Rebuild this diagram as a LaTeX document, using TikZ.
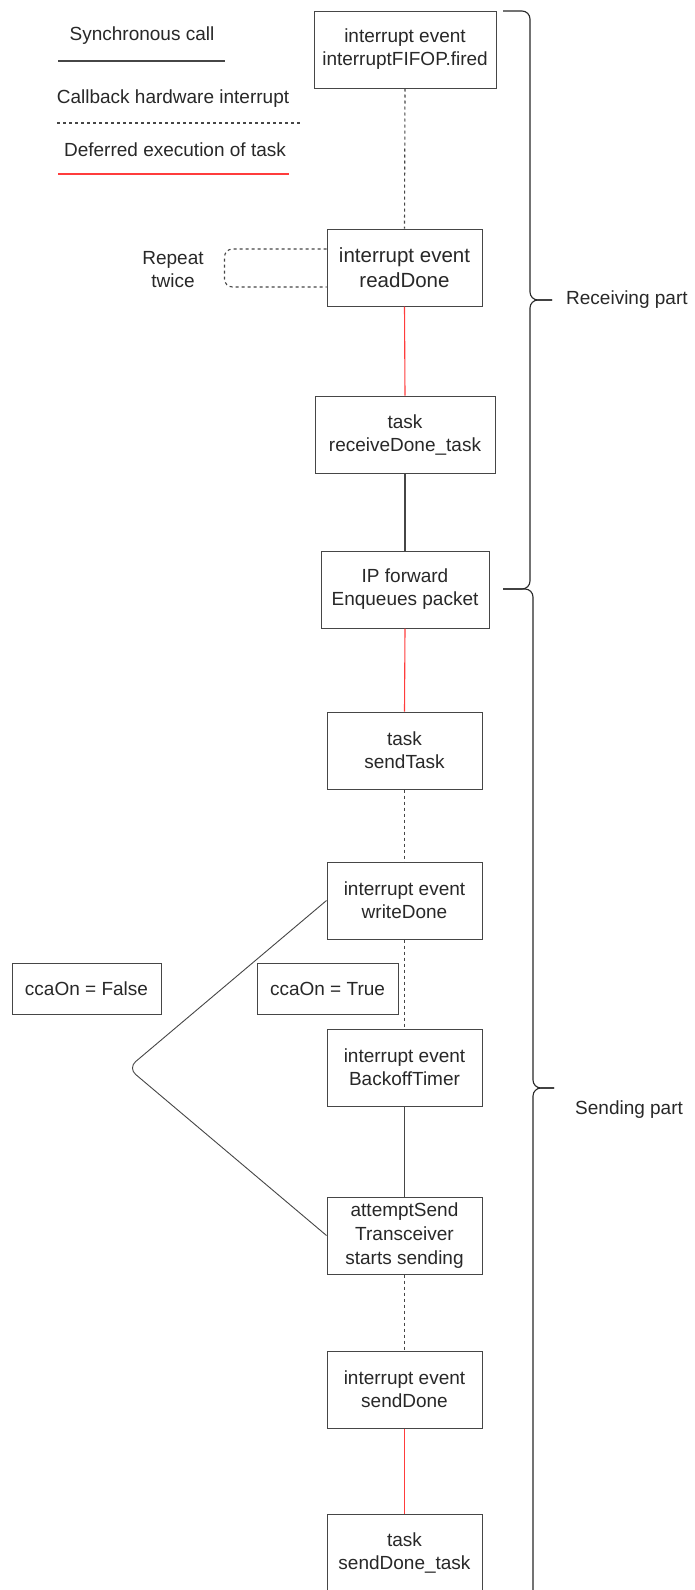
\documentclass[tikz,border=0pt]{standalone}
\usepackage{fontspec}
\setmainfont{Liberation Sans}
\definecolor{redline}{RGB}{255,60,60}
\definecolor{ink}{RGB}{40,40,40}
\definecolor{edge}{RGB}{70,70,70}
\begin{document}
\begin{tikzpicture}[x=1pt,y=-1pt,
  box/.style={draw=edge, line width=1pt, minimum height=77pt, inner sep=0pt, align=center, font=\fontsize{19}{23}\selectfont, text=ink},
  lbl/.style={inner sep=0pt, align=center, font=\fontsize{19}{23}\selectfont, text=ink},
  sync/.style={draw=edge, line width=1.1pt},
  cb/.style={draw=edge, line width=1.1pt, dash pattern=on 3pt off 3pt},
  defer/.style={draw=redline, line width=1.1pt},
  bracel/.style={draw=ink, line width=1.1pt, rounded corners=8pt}]
\fill[white] (0,0) rectangle (695,1590);
\useasboundingbox (0,0) rectangle (695,1590);

% legend
\node[lbl] (lg1) at (142,36) {Synchronous call};
\coordinate (l1a) at (58,61); \coordinate (l1b) at (225,61);
\draw[sync] (l1a) -- (l1b);
\node[lbl] (lg2) at (173,99) {Callback hardware interrupt};
\coordinate (l2a) at (57,123); \coordinate (l2b) at (302,123);
\draw[cb] (l2a) -- (l2b);
\node[lbl] (lg3) at (175,150) {Deferred execution of task};
\coordinate (l3a) at (58,174); \coordinate (l3b) at (289,174);
\draw[defer] (l3a) -- (l3b);

% main column
\node[box, minimum width=182pt] (b1) at (405,49.5) {interrupt event\\interruptFIFOP.fired};
\node[box, minimum width=155pt, font=\fontsize{20.5}{25}\selectfont] (b2) at (404.5,267.5) {interrupt event\\readDone};
\node[box, minimum width=180pt] (b3) at (405,434.5) {task\\receiveDone\_task};
\node[box, minimum width=168pt] (b4) at (405,589.5) {IP forward\\Enqueues packet};
\node[box, minimum width=155pt] (b5) at (404.5,750.5) {task\\sendTask};
\node[box, minimum width=155pt] (b6) at (404.5,900.5) {interrupt event\\writeDone};
\node[box, minimum width=155pt] (b7) at (404.5,1067.5) {interrupt event\\BackoffTimer};
\node[box, minimum width=155pt, font=\fontsize{19}{24}\selectfont] (b8) at (404.5,1235.5) {attemptSend\\Transceiver\\starts sending};
\node[box, minimum width=155pt] (b9) at (404.5,1389.5) {interrupt event\\sendDone};
\node[box, minimum width=155pt] (b10) at (404.5,1552.5) {task\\sendDone\_task};

\draw[cb] (b1.south) -- (b2.north);
\draw[defer] (b2.south) -- (b3.north);
\draw[sync] (b3.south) -- (b4.north);
\draw[defer] (b4.south) -- (b5.north);
\draw[cb] (b5.south) -- (b6.north);
\draw[cb] (b6.south) -- (b7.north);
\draw[sync] (b7.south) -- (b8.north);
\draw[cb] (b8.south) -- (b9.north);
\draw[defer] (b9.south) -- (b10.north);

% repeat loop
\node[lbl] (rep) at (173,270) {Repeat\\twice};
\draw[cb, rounded corners=8pt] ([yshift=18.5pt]b2.west) -- ++(-102,0) -- ++(0,38) -- ([yshift=-19.5pt]b2.west);

% cca branches
\node[box, minimum width=149pt, minimum height=51pt] (cf) at (86.5,988.5) {ccaOn = False};
\node[box, minimum width=141pt, minimum height=51pt] (ct) at (327.5,988.5) {ccaOn = True};
\coordinate (apex) at (128,1068);
\draw[sync, line width=0.9pt, rounded corners=10pt] (b6.west) -- (apex) -- (b8.west);

% braces
\draw[bracel] (503,11) -- (530,11) -- (530,300) -- (552,300);
\draw[bracel] (552,300) -- (530,300) -- (530,589) -- (503,589);
\draw[bracel] (503,589) -- (533,589) -- (533,1088) -- (554,1088);
\draw[bracel] (554,1088) -- (533,1088) -- (533,1598) -- (503,1598);
\node[lbl, anchor=west] (rp) at (566,300) {Receiving part};
\node[lbl, anchor=west] (sp) at (575,1110) {Sending part};
\end{tikzpicture}
\end{document}
